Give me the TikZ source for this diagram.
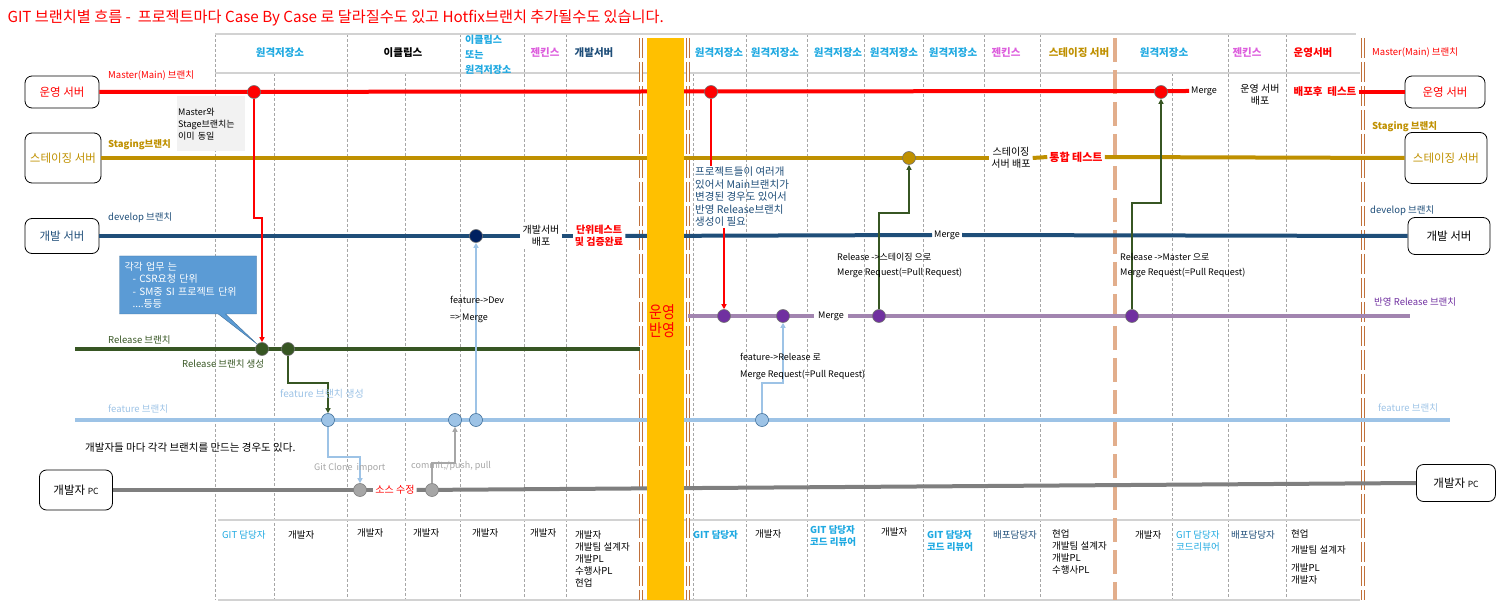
\documentclass[tikz,border=0pt]{standalone}
\usepackage{fontspec}
\setmainfont{Noto Sans CJK KR}
\usetikzlibrary{arrows.meta, positioning, shapes.callouts, calc}

\definecolor{prodred}{HTML}{FF0000}
\definecolor{stggold}{HTML}{BF9000}
\definecolor{devnavy}{HTML}{1F4E79}
\definecolor{dotnavy}{HTML}{002060}
\definecolor{relgreen}{HTML}{375623}
\definecolor{featblue}{HTML}{9DC3E6}
\definecolor{featedge}{HTML}{41719C}
\definecolor{purline}{HTML}{A285B0}
\definecolor{purdot}{HTML}{7030A0}
\definecolor{pcgray}{HTML}{7F7F7F}
\definecolor{pcdot}{HTML}{A6A6A6}
\definecolor{repocyan}{HTML}{1FA9E1}
\definecolor{jenkpink}{HTML}{DD5FDD}
\definecolor{sepbrown}{HTML}{C0703A}
\definecolor{septan}{HTML}{E2AE8C}
\definecolor{barorange}{HTML}{FFC000}
\definecolor{memoblue}{HTML}{5B9BD5}

\begin{document}
\begin{tikzpicture}[x=1pt, y=-1pt,
  srv/.style={draw, rounded corners=7pt, thick, align=center, font=\fontsize{11.5}{13}\selectfont},
  br/.style={line width=4pt},
  arr/.style={-{Triangle[length=5pt,width=5pt]}, line width=1.8pt},
  cmt/.style={circle, draw=black!55, line width=0.6pt, minimum size=13pt, inner sep=0pt},
  hd/.style={font=\fontsize{10.5}{12}\selectfont\bfseries},
  lbl/.style={font=\fontsize{9.5}{11}\selectfont, inner sep=1pt},
  brl/.style={lbl, anchor=west},
  lat/.style={brl, font=\fontsize{9}{11}\selectfont},
  onl/.style={fill=white, inner sep=2pt, align=center},
  role/.style={font=\fontsize{9.5}{12}\selectfont, anchor=north west, align=left, inner sep=0pt},
  gridln/.style={gray!70, dash pattern=on 3pt off 2pt, line width=0.6pt},
  tbl/.style={gray!35, line width=2.5pt},
  dbl/.style={sepbrown, double=white, double distance=1.6pt, line width=0.8pt, dash pattern=on 20pt off 4pt}
]
  \useasboundingbox (0,0) rectangle (1505,612);

  % ----- title -----
  \node[anchor=west, text=prodred, font=\fontsize{15.2}{17}\selectfont] (title) at (4,18)
    {GIT 브랜치별 흐름 -\ \ 프로젝트마다 Case By Case 로 달라질수도 있고 Hotfix브랜치 추가될수도 있습니다.};

  % ----- table grid -----
  \draw[gridln] (215,34) -- (215,600) (274,73) -- (274,600) (347,34) -- (347,600)
    (405,73) -- (405,600) (460,34) -- (460,600) (524,34) -- (524,600) (566,34) -- (566,600)
    (693,73) -- (693,600) (746,34) -- (746,600) (807,34) -- (807,600) (864,34) -- (864,600)
    (923,34) -- (923,600) (984,34) -- (984,600) (1040,34) -- (1040,600) (1172,73) -- (1172,600)
    (1228,34) -- (1228,600) (1286,34) -- (1286,600);
  \draw[tbl] (215,34) -- (1356,34);
  \draw[tbl] (215,73) -- (1360,73);
  \draw[tbl] (218,520) -- (1360,520);
  \draw[tbl] (218,600) -- (1360,600);
  \draw[dbl] (641,38) -- (641,600);
  \draw[dbl] (688,38) -- (688,600);
  \draw[dbl] (1363,38) -- (1363,600);
  \draw[septan, line width=3.5pt, dash pattern=on 24pt off 8pt] (1115,38) -- (1115,600);

  % ----- header -----
  \node[hd, text=repocyan] (h1) at (280,53) {원격저장소};
  \node[hd] (h2) at (403,53) {이클립스};
  \node[hd, text=repocyan, align=left, anchor=north west, inner sep=0pt,
        font=\fontsize{10}{15}\selectfont\bfseries] (h3) at (465,35) {이클립스\\또는\\원격저장소};
  \node[hd, text=jenkpink] (h4) at (545,53) {젠킨스};
  \node[hd, text=devnavy] (h5) at (594,53) {개발서버};
  \node[hd, text=repocyan] (h6) at (719,53) {원격저장소};
  \node[hd, text=repocyan] (h7) at (775,53) {원격저장소};
  \node[hd, text=repocyan] (h8) at (838,53) {원격저장소};
  \node[hd, text=repocyan] (h9) at (894,53) {원격저장소};
  \node[hd, text=repocyan] (h10) at (953,53) {원격저장소};
  \node[hd, text=jenkpink] (h11) at (1006,53) {젠킨스};
  \node[hd, text=stggold] (h12) at (1079,53) {스테이징 서버};
  \node[hd, text=repocyan] (h13) at (1164,53) {원격저장소};
  \node[hd, text=jenkpink] (h14) at (1247,53) {젠킨스};
  \node[hd, text=prodred] (h15) at (1313,53) {운영서버};
  \node[brl, text=prodred] (h16) at (1371,53) {Master(Main) 브랜치};

  % ----- servers -----
  \node[srv, text=prodred, minimum width=74pt, minimum height=32pt] (prodL) at (62,92) {운영 서버};
  \node[srv, text=stggold, minimum width=76pt, minimum height=50pt] (stgL) at (63,158) {스테이징 서버};
  \node[srv, text=devnavy, minimum width=74pt, minimum height=35pt] (devL) at (62,236) {개발 서버};
  \node[srv, minimum width=73pt, minimum height=40pt] (pcL) at (76,490) {개발자 {\fontsize{8.5}{10}\selectfont PC}};
  \node[srv, text=prodred, minimum width=80pt, minimum height=32pt] (prodR) at (1445,92) {운영 서버};
  \node[srv, text=stggold, minimum width=82pt, minimum height=51pt] (stgR) at (1446,158) {스테이징 서버};
  \node[srv, minimum width=82pt, minimum height=37pt] (devR) at (1449,236) {개발 서버};
  \node[srv, minimum width=79pt, minimum height=37pt] (pcR) at (1456,483) {개발자 {\fontsize{8.5}{10}\selectfont PC}};

  % ----- labels sitting on the branch lines -----
  \node[lbl, onl, font=\fontsize{9}{11}\selectfont] (mrgR) at (1204,91) {Merge};
  \node[lbl, onl, font=\fontsize{10}{12}\selectfont] (rdep) at (1260,95) {운영 서버\\배포};
  \node[lbl, onl, text=prodred, font=\fontsize{10.5}{12}\selectfont\bfseries] (rtest) at (1325,92) {배포후\ \ 테스트};
  \node[lbl, onl, font=\fontsize{10}{12}\selectfont] (sdep) at (1011,158) {스테이징\\서버 배포};
  \node[lbl, onl, text=prodred, font=\fontsize{11}{12}\selectfont\bfseries] (itest) at (1076,157) {통합 테스트};
  \node[lbl, onl, font=\fontsize{10}{12.5}\selectfont] (ddep) at (541,236) {개발서버\\배포};
  \node[lbl, onl, text=prodred, font=\fontsize{10}{12.5}\selectfont\bfseries] (utest) at (599,236) {단위테스트\\및 검증완료};
  \node[lbl, onl, font=\fontsize{9}{11}\selectfont] (dmrg) at (947,235) {Merge};
  \node[lbl, onl, inner sep=4pt, font=\fontsize{9}{11}\selectfont] (pmrg) at (831,316) {Merge};
  \node[lbl, onl, text=prodred, font=\fontsize{10}{11}\selectfont] (srcfix) at (395,490) {소스 수정};

  % ----- branch lines -----
  \coordinate (relS) at (75,349);
  \coordinate (relE) at (640,349);
  \coordinate (featS) at (75,420);
  \coordinate (featE) at (1450,420);
  \coordinate (purS) at (688,316);
  \coordinate (purE) at (1410,316);
  \draw[br, prodred] (prodL.east) -- (mrgR.west);
  \draw[br, prodred] (rtest.east) -- (prodR.west);
  \draw[br, stggold] (stgL.east) -- (sdep.west);
  \draw[br, stggold] (sdep.east) -- (itest.west);
  \draw[br, stggold] (itest.east) -- (stgR.west);
  \draw[br, devnavy] (devL.east) -- (ddep.west);
  \draw[br, devnavy] (ddep.east) -- (utest.west);
  \draw[br, devnavy] (utest.east) -- (dmrg.west);
  \draw[br, devnavy] (dmrg.east) -- (devR.west);
  \draw[br, relgreen] (relS) -- (relE);
  \draw[br, featblue] (featS) -- (featE);
  \draw[br, purline] (purS) -- (pmrg.west);
  \draw[br, purline] (pmrg.east) -- (purE);
  \draw[br, pcgray] (pcL.east) -- (srcfix.west);
  \draw[br, pcgray] (srcfix.east) -- (pcR.west);

  % ----- commits -----
  \node[cmt, fill=prodred] (m1) at (254,92) {};
  \node[cmt, fill=prodred] (m2) at (711,92) {};
  \node[cmt, fill=prodred] (m3) at (1161,92) {};
  \node[cmt, fill=stggold] (s1) at (909,158) {};
  \node[cmt, fill=dotnavy] (dv1) at (476,236) {};
  \node[cmt, fill=relgreen] (rel1) at (262,349) {};
  \node[cmt, fill=relgreen] (rel2) at (288,349) {};
  \node[cmt, fill=featblue, draw=featedge] (f1) at (328,420) {};
  \node[cmt, fill=featblue, draw=featedge] (f2) at (455,420) {};
  \node[cmt, fill=featblue, draw=featedge] (f3) at (476,420) {};
  \node[cmt, fill=featblue, draw=featedge] (f4) at (762,420) {};
  \node[cmt, fill=pcdot, draw=pcgray] (pc1) at (360,490) {};
  \node[cmt, fill=pcdot, draw=pcgray] (pc2) at (432,490) {};
  \node[cmt, fill=purdot] (p1) at (724,316) {};
  \node[cmt, fill=purdot] (p2) at (783,316) {};
  \node[cmt, fill=purdot] (p3) at (879,316) {};
  \node[cmt, fill=purdot] (p4) at (1132,316) {};

  % ----- note on the right of the bar -----
  \node[anchor=north west, text=devnavy, align=left, inner sep=1pt,
        font=\fontsize{10.5}{12.5}\selectfont] (note) at (694,166)
    {프로젝트들이 여러개\\있어서 Main브랜치가\\변경된 경우도 있어서\\반영 Release브랜치\\생성이 필요};

  % ----- flows -----
  \draw[arr, prodred] (m1) -- ++(0,126) -| (rel1.north);
  \draw[arr, relgreen] (rel2) -- ++(0,34) -| (f1.north);
  \draw[arr, featblue] (f1) -- ++(0,37) -| (pc1.north);
  \draw[arr, pcdot] (pc2) -- ++(0,-27) -| (f2.south);
  \draw[arr, featblue] (f3) -- (dv1);
  \draw[prodred, line width=1.8pt] (m2) -- (note.north -| m2);
  \draw[arr, prodred] (note.south -| p1) -- (p1);
  \draw[arr, featblue] (f4) -- ++(0,-37) -| (p2.south);
  \draw[arr, relgreen] (p3) -- ++(0,-103) -| (s1.south);
  \draw[arr, relgreen] (p4) -- ++(0,-113) -| (m3.south);

  % ----- branch names -----
  \node[brl, text=prodred] (lmain) at (107,76) {Master(Main) 브랜치};
  \node[brl, text=stggold, font=\fontsize{9.5}{11}\selectfont\bfseries] (lstg) at (107,145) {Staging브랜치};
  \node[brl, text=devnavy] (ldev) at (107,218) {develop 브랜치};
  \node[brl, text=relgreen] (lrel) at (107,340) {Release 브랜치};
  \node[brl, text=featblue] (lfeat) at (107,409) {feature 브랜치};
  \node[brl, text=stggold, font=\fontsize{9.5}{11}\selectfont\bfseries] (rstg) at (1371,127) {Staging 브랜치};
  \node[brl, text=devnavy] (rdev) at (1369,211) {develop 브랜치};
  \node[brl, text=purdot] (rrel) at (1373,302) {반영 Release 브랜치};
  \node[brl, text=featblue] (rfeat) at (1377,408) {feature 브랜치};

  % ----- flow texts -----
  \node[brl, text=relgreen] at (181,364) {Release 브랜치 생성};
  \node[brl, text=featblue, font=\fontsize{10}{11}\selectfont] at (279,394) {feature 브랜치 생성};
  \node[lat] at (449,300) {feature->Dev};
  \node[lat] at (449,318) {=> Merge};
  \node[brl, font=\fontsize{10.5}{12}\selectfont] at (84,448) {개발자들 마다 각각 브랜치를 만드는 경우도 있다.};
  \node[lat, text=pcdot] at (313,468) {Git Clone\ \ import};
  \node[lat, text=pcdot] at (410,466) {commit,/push, pull};
  \node[lat] at (739,357) {feature->Release 로};
  \node[lat] at (739,375) {Merge Request(=Pull Request)};
  \node[lat] at (836,257) {Release ->스테이징 으로};
  \node[lat] at (836,273) {Merge Request(=Pull Request)};
  \node[lat] at (1119,257) {Release ->Master 으로};
  \node[lat] at (1119,273) {Merge Request(=Pull Request)};

  % ----- memos -----
  \node[fill=black!5, anchor=north west, minimum width=68pt, minimum height=55pt, text width=66pt,
        align=left, inner sep=1pt, font=\fontsize{9}{12}\selectfont] (same) at (177,96)
    {Master와\\Stage브랜치는\\이미 동일};
  \node[rectangle callout, fill=memoblue, draw=featedge, text=white, align=left,
        text width=127pt, inner sep=5pt, minimum height=58pt, font=\fontsize{10}{12.5}\selectfont,
        callout absolute pointer={(rel1.north west)}] (memo) at (188,285)
    {각각 업무 는\\\hspace*{8pt}- CSR요청 단위\\\hspace*{8pt}- SM중 SI 프로젝트 단위\\\hspace*{8pt}....등등};

  % ----- roles -----
  \node[role, text=repocyan] at (222,530) {GIT 담당자};
  \node[role] at (288,530) {개발자};
  \node[role] at (357,528) {개발자};
  \node[role] at (413,528) {개발자};
  \node[role] at (472,528) {개발자};
  \node[role] at (530,528) {개발자};
  \node[role] at (575,530) {개발자\\개발팀 설계자\\개발PL\\수행사PL\\현업};
  \node[role, text=repocyan, font=\fontsize{9.5}{12}\selectfont\bfseries] at (693,530) {GIT 담당자};
  \node[role] at (755,529) {개발자};
  \node[role, text=repocyan, font=\fontsize{9.5}{12}\selectfont\bfseries] at (810,525) {GIT 담당자\\코드 리뷰어};
  \node[role] at (881,527) {개발자};
  \node[role, text=repocyan, font=\fontsize{9.5}{12}\selectfont\bfseries] at (927,530) {GIT 담당자\\코드 리뷰어};
  \node[role, text=devnavy] at (993,530) {배포담당자};
  \node[role] at (1052,529) {현업\\개발팀 설계자\\개발PL\\수행사PL};
  \node[role] at (1135,530) {개발자};
  \node[role, text=repocyan] at (1176,530) {GIT 담당자\\코드리뷰어};
  \node[role, text=devnavy] at (1231,530) {배포담당자};
  \node[role] at (1291,529) {현업\\[4pt]개발팀 설계자\\[6pt]개발PL\\개발자};

  % ----- release bar -----
  \node[fill=barorange, minimum width=37pt, minimum height=562pt, inner sep=0pt] (bar) at (665.5,319) {};
  \node[text=prodred, align=center, inner sep=0pt, yscale=1.2, transform shape,
        font=\fontsize{14}{15}\selectfont] (barlbl) at (662,321) {운영\\반영};
\end{tikzpicture}
\end{document}
